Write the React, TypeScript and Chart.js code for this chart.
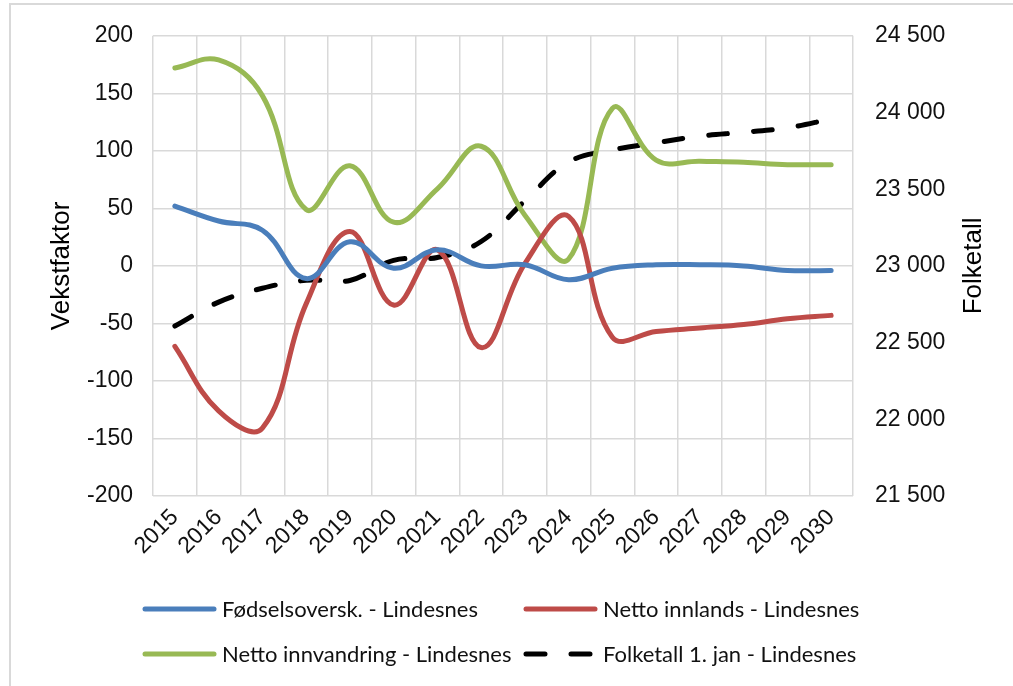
import React, { useEffect, useRef } from "react";
import { Chart, registerables } from "chart.js";

Chart.register(...registerables);

const years = ["2015", "2016", "2017", "2018", "2019", "2020", "2021", "2022", "2023", "2024", "2025", "2026", "2027", "2028", "2029", "2030"];
const fodselsoverskudd = [52, 39, 31, -11, 21, -2, 14, 0, 1, -12, -2, 1, 1, 0, -4, -4];
const nettoInnlands = [-70, -126, -141, -33, 30, -34, 14, -71, 2, 43, -62, -57, -54, -51, -46, -43];
const nettoInnvandring = [172, 179, 148, 49, 87, 38, 67, 104, 44, 6, 137, 92, 91, 90, 88, 88];
const folketall = [22608, 22764, 22854, 22906, 22905, 23036, 23055, 23159, 23424, 23677, 23755, 23802, 23846, 23871, 23900, 23958];

const seriesLabels = [
  "Fødselsoversk. - Lindesnes",
  "Netto innlands - Lindesnes",
  "Netto innvandring - Lindesnes",
  "Folketall 1. jan - Lindesnes",
];
const leftTitle = "Vekstfaktor";
const rightTitle = "Folketall";

const FONT = '"Liberation Sans", Arial, sans-serif';
const LEGEND_FONT = 'Lato, "Noto Sans", sans-serif';

function fmtThousands(v: number): string {
  const s = Math.round(v).toString();
  return s.replace(/\B(?=(\d{3})+(?!\d))/g, " ");
}

const overlayPlugin = {
  id: "overlay",
  afterDraw(chart: any) {
    const ctx = chart.ctx as CanvasRenderingContext2D;
    const ca = chart.chartArea;
    ctx.save();
    ctx.fillStyle = "#000";
    ctx.font = `26px ${FONT}`;
    ctx.textAlign = "center";
    ctx.textBaseline = "middle";
    const cy = (ca.top + ca.bottom) / 2;
    const titles: [number, string][] = [
      [ca.left - 91, leftTitle],
      [ca.right + 121, rightTitle],
    ];
    titles.forEach(([x, t]) => {
      ctx.save();
      ctx.translate(x, cy);
      ctx.rotate(-Math.PI / 2);
      ctx.fillText(t, 0, 0);
      ctx.restore();
    });

    // legend in two columns, two rows
    const colX = [142, 523];
    const rowY = [609, 654];
    ctx.font = `22px ${LEGEND_FONT}`;
    ctx.textAlign = "left";
    chart.data.datasets.forEach((ds: any, i: number) => {
      const col = i % 2;
      const row = Math.floor(i / 2);
      const x0 = colX[col];
      const y = rowY[row];
      ctx.save();
      ctx.beginPath();
      ctx.strokeStyle = ds.borderColor;
      ctx.lineWidth = ds.borderWidth;
      ctx.lineCap = "round";
      ctx.setLineDash(ds.borderDash || []);
      ctx.moveTo(x0 + 3, y);
      ctx.lineTo(x0 + 72, y);
      ctx.stroke();
      ctx.restore();
      ctx.fillStyle = "#111";
      ctx.fillText(ds.label, x0 + 80, y + 1);
    });
    ctx.restore();
  },
};

export default function App() {
  const ref = useRef<HTMLCanvasElement | null>(null);

  useEffect(() => {
    if (!ref.current) return;
    const chart = new Chart(ref.current, {
      type: "line",
      data: {
        labels: years,
        datasets: [
          {
            label: seriesLabels[0],
            data: fodselsoverskudd,
            borderColor: "#4a7ebb",
            backgroundColor: "#4a7ebb",
            borderWidth: 5,
            yAxisID: "y",
          },
          {
            label: seriesLabels[1],
            data: nettoInnlands,
            borderColor: "#be4b48",
            backgroundColor: "#be4b48",
            borderWidth: 5,
            yAxisID: "y",
          },
          {
            label: seriesLabels[2],
            data: nettoInnvandring,
            borderColor: "#98b954",
            backgroundColor: "#98b954",
            borderWidth: 5,
            yAxisID: "y",
          },
          {
            label: seriesLabels[3],
            data: folketall,
            borderColor: "#000000",
            backgroundColor: "#000000",
            borderWidth: 5,
            borderDash: [19, 26],
            yAxisID: "y2",
          },
        ],
      },
      options: {
        responsive: false,
        animation: false,
        layout: { padding: { top: 33, bottom: 110, left: 0, right: 0 } },
        elements: {
          line: { tension: 0.4, borderCapStyle: "round", borderJoinStyle: "round" },
          point: { radius: 0, hoverRadius: 0 },
        },
        plugins: {
          legend: { display: false },
          tooltip: { enabled: false },
        },
        scales: {
          x: {
            type: "category",
            offset: true,
            grid: { offset: true, color: "#d9d9d9", lineWidth: 1.5, drawTicks: false },
            border: { display: false },
            ticks: {
              autoSkip: false,
              maxRotation: 45,
              minRotation: 45,
              padding: 8,
              color: "#111",
              font: { family: FONT, size: 23 },
            },
            afterFit: (s: any) => {
              s.height = 80;
            },
          },
          y: {
            position: "left",
            min: -200,
            max: 200,
            ticks: { stepSize: 50, padding: 20, color: "#111", font: { family: FONT, size: 23 } },
            grid: { color: "#d9d9d9", lineWidth: 1.5, drawTicks: false },
            border: { display: false },
            afterFit: (s: any) => {
              s.width = 153;
            },
          },
          y2: {
            position: "right",
            min: 21500,
            max: 24500,
            ticks: {
              stepSize: 500,
              padding: 22,
              color: "#111",
              font: { family: FONT, size: 23 },
              callback: (v: any) => fmtThousands(Number(v)),
            },
            grid: { display: false, drawTicks: false },
            border: { display: false },
            afterFit: (s: any) => {
              s.width = 160;
            },
          },
        },
      },
      plugins: [overlayPlugin],
    });
    return () => chart.destroy();
  }, []);

  return (
    <div
      style={{
        position: "fixed",
        left: 0,
        top: 0,
        width: 1013,
        height: 686,
        overflow: "hidden",
        background: "#fff",
      }}
    >
      <div
        style={{
          position: "absolute",
          left: 9,
          top: 3,
          width: 1020,
          height: 720,
          border: "2px solid #d9d9d9",
          boxSizing: "border-box",
        }}
      />
      <canvas
        ref={ref}
        width={1013}
        height={686}
        style={{ position: "absolute", left: 0, top: 0, width: 1013, height: 686 }}
      />
    </div>
  );
}
